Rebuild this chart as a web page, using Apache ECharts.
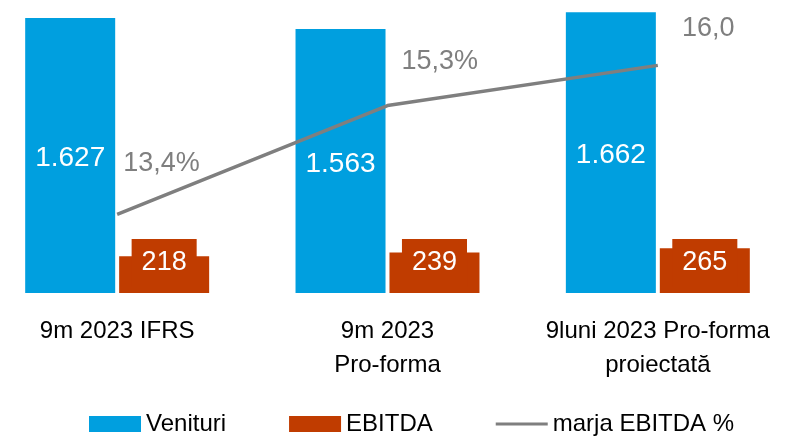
<!DOCTYPE html>
<html>
<head>
<meta charset="utf-8">
<script src="https://cdn.jsdelivr.net/npm/echarts@6/dist/echarts.min.js"></script>
<style>
  html, body { margin: 0; padding: 0; background: #fff; }
  #chart { width: 792px; height: 437px; }
</style>
</head>
<body>
<div id="chart"></div>
<script>
// data
const categories = ['9m 2023 IFRS', '9m 2023\nPro-forma', '9luni 2023 Pro-forma\nproiectată'];
const venituri = [1627, 1563, 1662];
const ebitda = [218, 239, 265];
const marja = [13.4, 15.3, 16.0];
const marjaLabels = ['13,4%', '15,3%', '16,0'];

// where the margin labels sit relative to their points
const marjaLabelOffsets = [[6, -51], [14, -44], [24, -37]];

const FONT = 'Liberation Sans, Arial, sans-serif';
const BLUE = '#009FDF';
const ORANGE = '#C03C00';
const GREY = '#7F7F7F';

const fmtThousands = (v) => String(v).replace(/\B(?=(\d{3})+(?!\d))/g, '.');

const chart = echarts.init(document.getElementById('chart'));

const option = {
    animation: false,
    textStyle: { fontFamily: FONT },
    grid: { left: -18, right: -1, top: 0, bottom: 144, outerBoundsMode: 'none', containLabel: false },
    legend: {
        left: 84,
        top: 407,
        itemWidth: 52,
        itemHeight: 16,
        itemGap: 63,
        textStyle: { fontFamily: FONT, fontSize: 24, color: '#000' },
        data: [
            { name: 'Venituri', icon: 'rect' },
            { name: 'EBITDA', icon: 'rect' },
            { name: 'marja EBITDA %', icon: 'path://M0,0H52V3H0Z', itemStyle: { color: GREY } }
        ]
    },
    xAxis: {
        type: 'category',
        data: categories,
        axisLine: { show: false },
        axisTick: { show: false },
        axisLabel: {
            interval: 0,
            margin: 21,
            fontFamily: FONT,
            fontSize: 24,
            lineHeight: 34,
            color: '#000'
        }
    },
    yAxis: [
        { type: 'value', min: 0, max: 1734, show: false, splitLine: { show: false } },
        { type: 'value', min: 12.03, max: 17.14, show: false, splitLine: { show: false } }
    ],
    series: [
        {
            name: 'Venituri',
            type: 'bar',
            data: venituri,
            barWidth: 90,
            barGap: '4.4%',
            itemStyle: { color: BLUE },
            label: {
                show: true,
                position: 'inside',
                offset: [0, 3],
                color: '#fff',
                fontFamily: FONT,
                fontSize: 28,
                formatter: (p) => fmtThousands(p.value)
            },
            z: 2
        },
        {
            name: 'EBITDA',
            type: 'bar',
            data: ebitda,
            barWidth: 90,
            itemStyle: { color: ORANGE },
            label: {
                show: true,
                position: 'insideBottom',
                distance: 6,
                color: '#fff',
                fontFamily: FONT,
                fontSize: 27,
                lineHeight: 28,
                backgroundColor: ORANGE,
                padding: [10, 10, 10, 10]
            },
            z: 2
        },
        {
            name: 'marja EBITDA %',
            type: 'line',
            yAxisIndex: 1,
            data: marja.map((v, i) => ({
                value: v,
                label: { offset: marjaLabelOffsets[i] }
            })),
            symbol: 'circle',
            symbolSize: 0.1,
            showSymbol: true,
            lineStyle: { color: GREY, width: 3.5 },
            itemStyle: { color: GREY },
            label: {
                show: true,
                position: 'right',
                distance: 0,
                color: GREY,
                fontFamily: FONT,
                fontSize: 27,
                formatter: (p) => marjaLabels[p.dataIndex]
            },
            z: 3
        }
    ]
};

option && chart.setOption(option);
</script>
</body>
</html>
